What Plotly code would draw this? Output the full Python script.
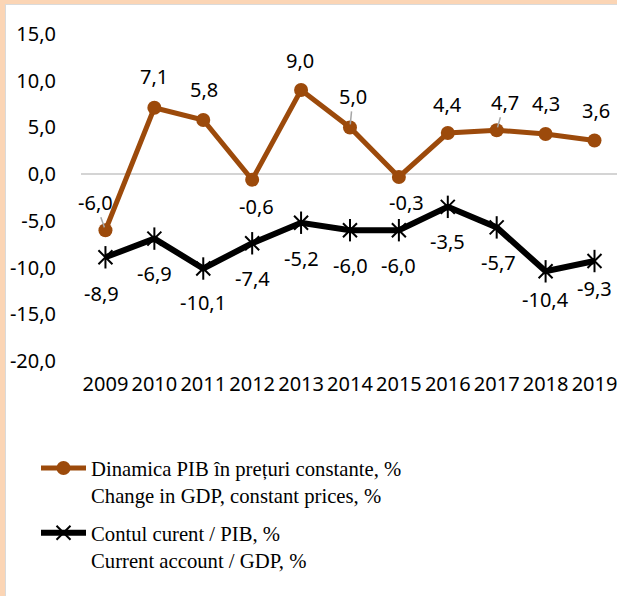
import plotly.graph_objects as go

# ---------------- data ----------------
years = ["2009", "2010", "2011", "2012", "2013", "2014", "2015", "2016", "2017", "2018", "2019"]
gdp_change = [-6.0, 7.1, 5.8, -0.6, 9.0, 5.0, -0.3, 4.4, 4.7, 4.3, 3.6]
current_account = [-8.9, -6.9, -10.1, -7.4, -5.2, -6.0, -6.0, -3.5, -5.7, -10.4, -9.3]
y_tick_values = [15, 10, 5, 0, -5, -10, -15, -20]
y_tick_labels = ["15,0", "10,0", "5,0", "0,0", "-5,0", "-10,0", "-15,0", "-20,0"]
gdp_name = "Dinamica PIB în prețuri constante, %<br>Change in GDP, constant prices, %"
ca_name = "Contul curent / PIB, %<br>Current account / GDP, %"

# ---------------- style ----------------
ORANGE = "#9C4A0B"
BLACK = "#000000"
PEACH = "#FBD5B5"
GREY = "#A6A6A6"
FONT = "Noto Sans"
LEG_FONT = "Liberation Serif"
FS = 20
LEG_FS = 20.7

W, H = 617, 596
L, R, T, B = 81, 0, 34, 235
PW, PH = W - L - R, H - T - B

def fmt(v):
    return f"{v:.1f}".replace(".", ",")

def px_x(p):
    return (p - L) / PW

def px_y(p):
    return (T + PH - p) / PH

# label offsets in pixels (dx right, dy down) and leader-line flags
gdp_offsets = [(-10, -28), (0, -31), (1, -30), (4, 27), (-1, -30), (3, -31),
               (8, 26), (0, -29), (8, -28), (0, -30), (1, -30)]
gdp_leader = [True, False, False, False, False, True, False, False, True, False, False]
ca_offsets = [(-4, 36), (0, 35), (0, 34), (0, 35), (0, 36), (1, 35),
              (0, 35), (0, 35), (2, 35), (0, 28), (0, 27)]

fig = go.Figure()

fig.add_trace(go.Scatter(
    x=years, y=gdp_change, name=gdp_name, mode="lines+markers",
    line=dict(color=ORANGE, width=5),
    marker=dict(symbol="circle", size=14, color=ORANGE),
    legendgroup="g1",
))
fig.add_trace(go.Scatter(
    x=years, y=current_account, name=ca_name, mode="lines+markers",
    line=dict(color=BLACK, width=6),
    marker=dict(symbol="x-thin-open", size=14, color=BLACK, line=dict(width=2, color=BLACK)),
    legendgroup="g2",
))
fig.add_trace(go.Scatter(
    x=years, y=current_account, mode="markers", showlegend=False,
    marker=dict(symbol="line-ns-open", size=16, color=BLACK, line=dict(width=2, color=BLACK)),
    legendgroup="g2", hoverinfo="skip",
))

annotations = []
for i, (v, (dx, dy), lead) in enumerate(zip(gdp_change, gdp_offsets, gdp_leader)):
    if lead:
        annotations.append(dict(x=i, y=v, xref="x", yref="y", text=fmt(v), showarrow=True,
                                ax=dx, ay=dy, arrowhead=0, arrowwidth=1.5, arrowcolor=GREY,
                                standoff=3, font=dict(family=FONT, size=FS, color="#000")))
    else:
        annotations.append(dict(x=i, y=v, xref="x", yref="y", text=fmt(v), showarrow=False,
                                xshift=dx, yshift=-dy, font=dict(family=FONT, size=FS, color="#000")))
for i, (v, (dx, dy)) in enumerate(zip(current_account, ca_offsets)):
    annotations.append(dict(x=i, y=v, xref="x", yref="y", text=fmt(v), showarrow=False,
                            xshift=dx, yshift=-dy, font=dict(family=FONT, size=FS, color="#000")))

shapes = [
    dict(type="rect", xref="paper", yref="paper", x0=px_x(0), x1=px_x(5), y0=px_y(H), y1=px_y(0),
         fillcolor=PEACH, line=dict(width=0), layer="below"),
    dict(type="rect", xref="paper", yref="paper", x0=px_x(0), x1=px_x(W), y0=px_y(4), y1=px_y(0),
         fillcolor=PEACH, line=dict(width=0), layer="below"),
    dict(type="line", xref="paper", yref="paper", x0=px_x(5.5), x1=px_x(5.5), y0=px_y(H), y1=px_y(4.5),
         line=dict(color="#DADADA", width=1), layer="below"),
    dict(type="line", xref="paper", yref="paper", x0=px_x(5), x1=px_x(W), y0=px_y(4.5), y1=px_y(4.5),
         line=dict(color="#DADADA", width=1), layer="below"),
]

fig.update_layout(
    width=W, height=H,
    margin=dict(l=L, r=R, t=T, b=B, pad=0),
    paper_bgcolor="white", plot_bgcolor="white",
    font=dict(family=FONT, size=FS, color="#000"),
    showlegend=True,
    legend=dict(
        x=px_x(36), y=px_y(448), xanchor="left", yanchor="top",
        font=dict(family=LEG_FONT, size=LEG_FS, color="#000"),
        bgcolor="rgba(0,0,0,0)", borderwidth=0,
        tracegroupgap=8, valign="top", itemwidth=45,
    ),
    annotations=annotations,
    shapes=shapes,
    xaxis=dict(
        type="category", range=[-0.5, 10.46], showgrid=False, zeroline=False,
        showline=False, ticks="outside", ticklen=5, tickcolor="rgba(0,0,0,0)",
        tickfont=dict(family=FONT, size=FS, color="#000"),
    ),
    yaxis=dict(
        range=[-20, 15], showgrid=False, zeroline=True, zerolinecolor="#D4D4D4", zerolinewidth=2,
        showline=False, tickvals=y_tick_values, ticktext=y_tick_labels,
        ticks="outside", ticklen=20, tickcolor="rgba(0,0,0,0)",
        tickfont=dict(family=FONT, size=FS, color="#000"),
    ),
)

fig.write_html(
    "out.html",
    config={"displayModeBar": False},
    post_script="document.body.style.margin='0';document.body.style.overflow='hidden';",
)
